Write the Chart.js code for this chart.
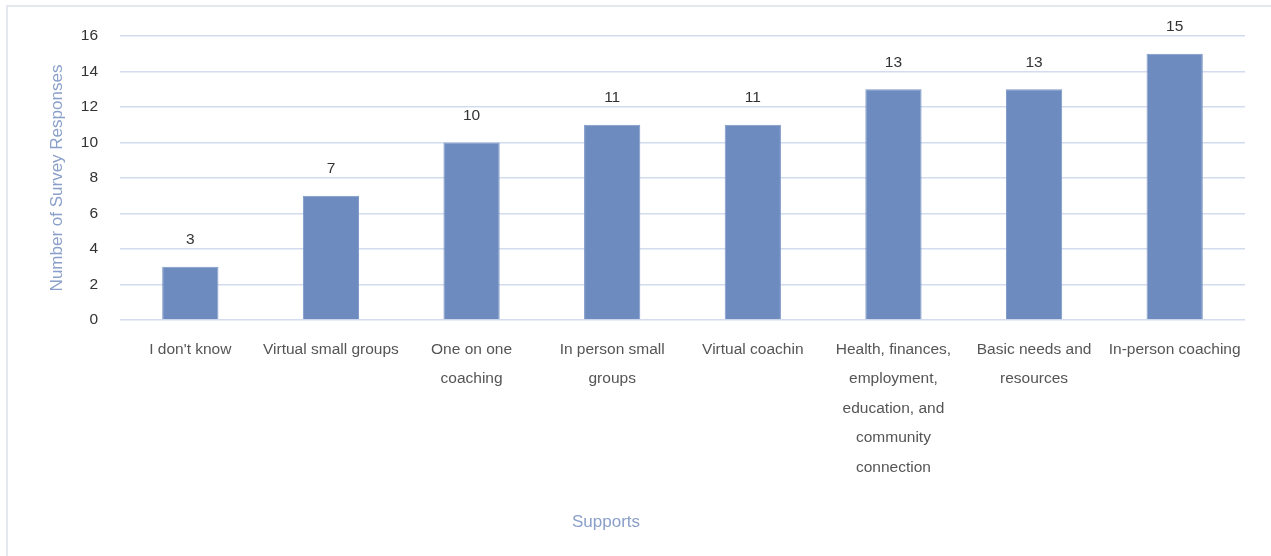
<!DOCTYPE html>
<html>
<head>
<meta charset="utf-8">
<script src="https://cdn.jsdelivr.net/npm/chart.js@4/dist/chart.umd.min.js"></script>
<style>
	html, body { margin: 0; padding: 0; background: #ffffff; overflow: hidden; }
	.frame { position: absolute; left: 6px; top: 5px; width: 1270px; height: 570px; border: 2px solid #e3e7ee; box-sizing: border-box; }
	.chart { position: absolute; left: 0; top: 0; width: 1271px; height: 556px; }
</style>
</head>
<body>
<div class="frame"></div>
<div class="chart"><canvas id="chart"></canvas></div>
<script>
const categories = [
	"I don't know",
	"Virtual small groups",
	["One on one", "coaching"],
	["In person small", "groups"],
	"Virtual coachin",
	["Health, finances,", "employment,", "education, and", "community", "connection"],
	["Basic needs and", "resources"],
	"In-person coaching"
];
const responses = [3, 7, 10, 11, 11, 13, 13, 15];
const yTicks = [0, 2, 4, 6, 8, 10, 12, 14, 16];
const yTitle = 'Number of Survey Responses';
const xTitle = 'Supports';

const font = "'Liberation Sans', Arial, sans-serif";

// values above bars
const valueLabels = {
	id: 'valueLabels',
	afterDatasetsDraw(chart) {
		const ctx = chart.ctx;
		const meta = chart.getDatasetMeta(0);
		ctx.save();
		ctx.font = '15.5px ' + font;
		ctx.fillStyle = '#333333';
		ctx.textAlign = 'center';
		ctx.textBaseline = 'middle';
		meta.data.forEach(function(bar, i) {
			ctx.fillText(String(responses[i]), bar.x, bar.y - 27);
		});
		ctx.restore();
	}
};

// x axis title, set a bit left of centre as in the original
const xAxisTitle = {
	id: 'xAxisTitle',
	afterDraw(chart) {
		const ctx = chart.ctx;
		const area = chart.chartArea;
		ctx.save();
		ctx.font = '17px ' + font;
		ctx.fillStyle = '#8a9fc9';
		ctx.textAlign = 'center';
		ctx.textBaseline = 'middle';
		ctx.fillText(xTitle, area.left + (area.right - area.left) * 0.432, 522);
		ctx.restore();
	}
};

new Chart(document.getElementById('chart').getContext('2d'), {
	type: 'bar',
	data: {
		labels: categories,
		datasets: [{
			data: responses,
			backgroundColor: '#6d8bbe',
			borderColor: '#7b97c6',
			borderWidth: 1,
			barPercentage: 0.4,
			categoryPercentage: 1.0
		}]
	},
	options: {
		responsive: true,
		maintainAspectRatio: false,
		animation: false,
		layout: { padding: { left: 40, right: 26, top: 36, bottom: 0 } },
		plugins: {
			legend: { display: false },
			tooltip: { enabled: false }
		},
		scales: {
			x: {
				grid: { display: false, drawTicks: false },
				border: { display: false },
				ticks: {
					color: '#555555',
					font: { family: font, size: 15.5, lineHeight: 1.9 },
					padding: 15,
					maxRotation: 0,
					autoSkip: false
				},
				afterFit(scale) { scale.height = 236; }
			},
			y: {
				min: 0,
				max: 16,
				afterBuildTicks(scale) { scale.ticks = yTicks.map(v => ({value: v})); },
				grid: { color: '#d3dcee', lineWidth: 1.6, drawTicks: false },
				border: { display: false },
				ticks: {
					color: '#333333',
					font: { family: font, size: 15.5 },
					padding: 22
				},
				title: {
					display: true,
					text: yTitle,
					color: '#8a9fc9',
					font: { family: font, size: 17 },
					padding: { top: 7, bottom: 0 }
				},
				afterFit(scale) { scale.width = 80; }
			}
		}
	},
	plugins: [valueLabels, xAxisTitle]
});
</script>
</body>
</html>
